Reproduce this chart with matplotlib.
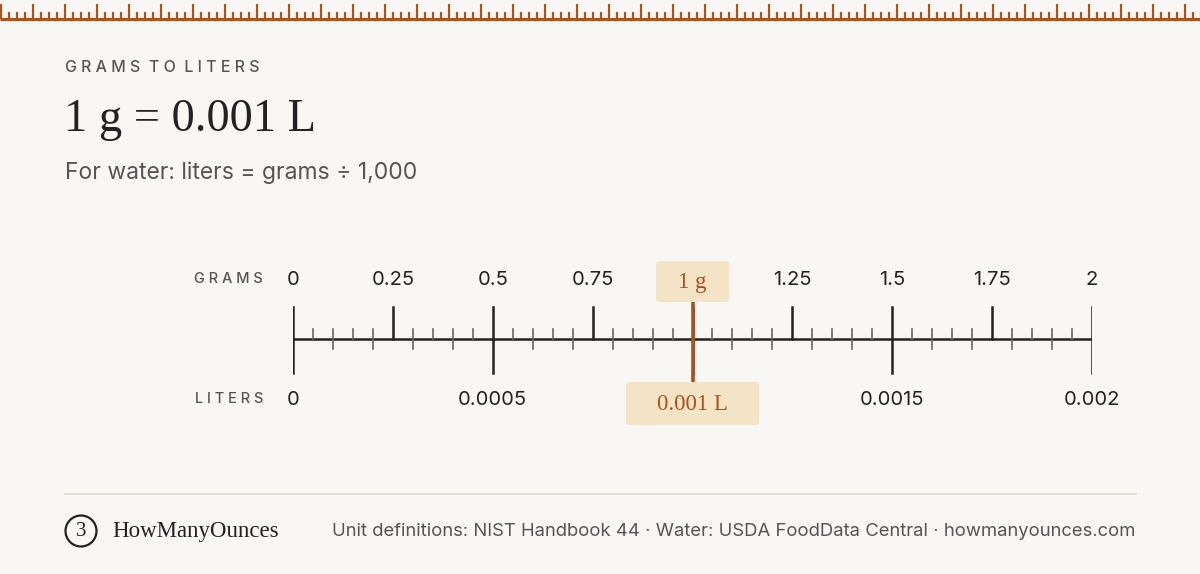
import matplotlib
matplotlib.use("Agg")
import matplotlib.pyplot as plt
import numpy as np
from matplotlib.patches import FancyBboxPatch, Circle

grams_labels = [0, 0.25, 0.5, 0.75, 1.0, 1.25, 1.5, 1.75, 2]
gram_label_text = ["0", "0.25", "0.5", "0.75", "", "1.25", "1.5", "1.75", "2"]
liter_positions_g = [0, 0.5, 1.0, 1.5, 2]
liter_label_text = ["0", "0.0005", "", "0.0015", "0.002"]
value_g = 1.0
value_text_g = "1 g"
value_text_l = "0.001 L"

BG = "#f9f7f3"; ORANGE = "#b0501f"; BOX = "#f3e4c5"; INK = "#222222"; GREY = "#555555"
SANS = ["Inter", "DejaVu Sans"]; SERIF = ["Liberation Serif", "DejaVu Serif"]

fig = plt.figure(figsize=(12, 5.74), dpi=100, facecolor=BG)
bg = fig.add_axes([0, 0, 1, 1]); bg.set_xlim(0, 1200); bg.set_ylim(574, 0); bg.axis("off")

# top decorative ruler
bg.plot([0, 1200], [19, 19], color=ORANGE, lw=2.2, solid_capstyle="butt")
for i, x in enumerate(np.arange(0, 1201, 8)):
    top = 4 if i % 4 == 0 else 12
    bg.plot([x + 1, x + 1], [top, 19], color=ORANGE, lw=1.6, solid_capstyle="butt")

bg.text(65, 68, "G R A M S  T O  L I T E R S", fontsize=11.5, color=GREY, family=SANS, va="center", fontweight="medium")
bg.text(64, 120, "1 g = 0.001 L", fontsize=33.5, color=INK, family=SERIF, va="center")
bg.text(65, 173, "For water: liters = grams ÷ 1,000", fontsize=16.5, color=GREY, family=SANS, va="center")
bg.text(263, 279, "G R A M S", fontsize=10.5, color=GREY, family=SANS, va="center", ha="right", fontweight="medium")
bg.text(263, 399, "L I T E R S", fontsize=10.5, color=GREY, family=SANS, va="center", ha="right", fontweight="medium")

bg.plot([65, 1136], [494, 494], color="#dddad2", lw=1.2)
bg.add_patch(Circle((81, 531), 15.5, fill=False, ec=INK, lw=1.6))
bg.text(81, 532, "3", fontsize=15, family=SERIF, color=INK, ha="center", va="center")
bg.text(112, 531, "HowManyOunces", fontsize=16.5, family=SERIF, color=INK, va="center")
bg.text(1135, 531, "Unit definitions: NIST Handbook 44 · Water: USDA FoodData Central · howmanyounces.com",
        fontsize=13.3, family=SANS, color=GREY, va="center", ha="right")

# ruler axes in grams
ax = fig.add_axes([293/1200, 0, 799/1200, 1])
ax.set_xlim(0, 2); ax.set_ylim(574, 0); ax.axis("off"); ax.patch.set_alpha(0)
LINE_Y = 339
ax.plot([0, 2], [LINE_Y, LINE_Y], color=INK, lw=1.8, solid_capstyle="butt")
for k in range(41):
    g = k * 0.05
    if k % 5 == 0:
        bot = 373 if k % 10 == 0 else LINE_Y
        ax.plot([g, g], [307, bot], color=INK, lw=1.8)
    elif k % 2 == 0:
        ax.plot([g, g], [329, 349], color="#666", lw=1.2)
    else:
        ax.plot([g, g], [329, LINE_Y], color="#666", lw=1.2)
for g, t in zip(grams_labels, gram_label_text):
    if t:
        ax.text(g, 280, t, fontsize=14.5, family=SANS, color=INK, ha="center", va="center")
for g, t in zip(liter_positions_g, liter_label_text):
    if t:
        ax.text(g, 400, t, fontsize=14.5, family=SANS, color=INK, ha="center", va="center")

ax.plot([value_g, value_g], [302, 382], color=ORANGE, lw=2.6, zorder=5)
def box(xc, yc, wpx, hpx, txt):
    wg = wpx / 400
    ax.add_patch(FancyBboxPatch((xc - wg/2, yc - hpx/2), wg, hpx, boxstyle="round,pad=0,rounding_size=0.008",
                                fc=BOX, ec="none", zorder=6, mutation_aspect=300))
    ax.text(xc, yc + 1, txt, fontsize=16.5, family=SERIF, color=ORANGE, ha="center", va="center", zorder=7)
box(value_g, 281.5, 73, 41, value_text_g)
box(value_g, 403.5, 133, 43, value_text_l)

fig.savefig("out.png", dpi=100, facecolor=BG)
